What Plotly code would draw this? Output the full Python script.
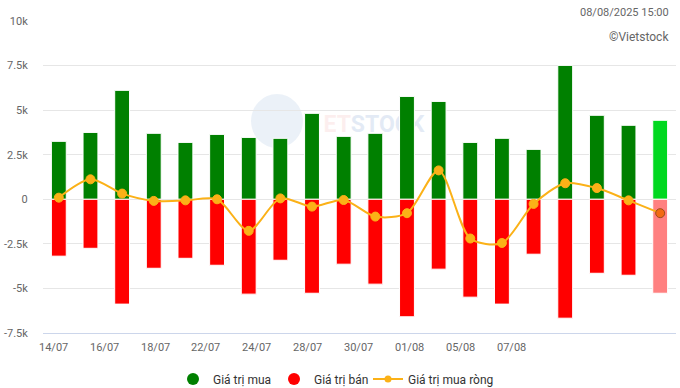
import plotly.graph_objects as go

dates = ["14/07", "15/07", "16/07", "17/07", "18/07", "21/07", "22/07", "23/07", "24/07", "25/07",
         "28/07", "29/07", "30/07", "31/07", "01/08", "04/08", "05/08", "06/08", "07/08", "08/08"]
buy_values = [3250, 3750, 6110, 3700, 3190, 3640, 3470, 3420, 4820, 3530,
              3700, 5770, 5490, 3190, 3420, 2800, 7510, 4710, 4150, 4430]
sell_values = [-3190, -2750, -5880, -3870, -3310, -3700, -5320, -3420, -5270, -3640,
               -4760, -6590, -3920, -5490, -5880, -3080, -6670, -4150, -4260, -5270]
net_values = [90, 1120, 320, -90, -60, 0, -1770, 50, -410, -40,
              -970, -780, 1620, -2200, -2450, -260, 900, 630, -60, -780]
x_tick_labels = ["14/07", "16/07", "18/07", "22/07", "24/07", "28/07", "30/07", "01/08", "05/08", "07/08"]
y_tick_values = [-7500, -5000, -2500, 0, 2500, 5000, 7500, 10000]
y_tick_labels = ["-7.5k", "-5k", "-2.5k", "0", "2.5k", "5k", "7.5k", "10k"]

FONT = "Roboto"
GREEN, GREEN_LAST = "#008000", "#00d81f"
RED, RED_LAST = "#ff0000", "#ff8080"
NET = "#fbb117"

n = len(dates)
buy_colors = [GREEN] * (n - 1) + [GREEN_LAST]
sell_colors = [RED] * (n - 1) + [RED_LAST]
net_colors = [NET] * (n - 1) + ["#f26a12"]
net_line_colors = [NET] * (n - 1) + ["#9a4a1a"]

fig = go.Figure()
fig.add_trace(go.Bar(x=dates, y=buy_values, marker=dict(color=buy_colors, line=dict(color="white", width=1)),
                     showlegend=False, hoverinfo="y"))
fig.add_trace(go.Bar(x=dates, y=sell_values, marker=dict(color=sell_colors, line=dict(color="white", width=1)),
                     showlegend=False, hoverinfo="y"))
fig.add_trace(go.Scatter(x=dates, y=net_values, mode="lines+markers",
                         line=dict(color=NET, width=2, shape="spline", smoothing=0.8),
                         marker=dict(size=9, color=net_colors, line=dict(color=net_line_colors, width=1)),
                         showlegend=False))

# legend entries (no visible marks: y is empty)
fig.add_trace(go.Scatter(x=[dates[0]], y=[None], mode="markers", name="Giá trị mua",
                         marker=dict(size=12, color=GREEN, symbol="circle"), legend="legend"))
fig.add_trace(go.Scatter(x=[dates[0]], y=[None], mode="markers", name="Giá trị bán",
                         marker=dict(size=12, color=RED, symbol="circle"), legend="legend"))
fig.add_trace(go.Scatter(x=[dates[0]], y=[None], mode="lines+markers", name="Giá trị mua ròng",
                         line=dict(color=NET, width=2), marker=dict(size=7, color=NET), legend="legend2"))

W, H = 680, 388
L, R, T, B = 43, 4, 21, 55
pw = W - L - R
ph = H - T - B


def px(X):
    return (X - L) / pw


def py(Y):
    return (H - B - Y) / ph


annotations = []
label_start_px = 53.3
label_step_px = 50.9
for k, lab in enumerate(x_tick_labels):
    annotations.append(dict(text=lab, xref="paper", yref="paper",
                            x=px(label_start_px + k * label_step_px), y=py(347),
                            xanchor="center", yanchor="middle", showarrow=False,
                            font=dict(family=FONT, size=11, color="#666666")))
annotations.append(dict(text="08/08/2025 15:00", xref="paper", yref="paper", x=px(671), y=py(12),
                        xanchor="right", yanchor="middle", showarrow=False,
                        font=dict(family=FONT, size=11, color="#666666")))
annotations.append(dict(text="©Vietstock", xref="paper", yref="paper", x=px(671), y=py(37),
                        xanchor="right", yanchor="middle", showarrow=False,
                        font=dict(family=FONT, size=12, color="#666666")))

shapes = [
    dict(type="circle", xref="paper", yref="paper",
         x0=px(251), x1=px(303), y0=py(148), y1=py(94),
         fillcolor="rgba(205,220,238,0.4)", line=dict(width=0), layer="below"),
    dict(type="rect", xref="paper", yref="paper",
         x0=px(316), x1=px(432), y0=py(132), y1=py(113),
         fillcolor="rgba(0,0,0,0)", line=dict(width=0), layer="below",
         label=dict(text="<b><span style='color:rgba(245,190,190,0.5)'>ET</span>STOCK</b>",
                    font=dict(family=FONT, size=23, color="rgba(200,214,235,0.5)"))),
]

fig.update_layout(
    width=W, height=H,
    margin=dict(l=L, r=R, t=T, b=B, autoexpand=False),
    paper_bgcolor="white", plot_bgcolor="rgba(0,0,0,0)",
    barmode="relative", bargap=0.53,
    font=dict(family=FONT, color="#333333"),
    xaxis=dict(type="category", range=[-0.5, n - 0.5], showticklabels=False, showgrid=False, showline=True,
               linecolor="#ccd6eb", linewidth=1, ticks="", fixedrange=True),
    yaxis=dict(range=[-7500, 10000], tickvals=y_tick_values, ticktext=y_tick_labels,
               showgrid=True, gridcolor="#e6e6e6", gridwidth=1, zeroline=False,
               ticks="outside", ticklen=12, tickcolor="rgba(0,0,0,0)",
               tickfont=dict(family=FONT, size=11, color="#666666")),
    legend=dict(orientation="h", x=px(173), xanchor="left", y=py(379), yanchor="middle",
                font=dict(family=FONT, size=12, color="#333333"), itemwidth=30,
                entrywidth=56, entrywidthmode="pixels", bgcolor="rgba(0,0,0,0)"),
    legend2=dict(orientation="h", x=px(368), xanchor="left", y=py(379), yanchor="middle",
                 font=dict(family=FONT, size=12, color="#333333"), itemwidth=30,
                 bgcolor="rgba(0,0,0,0)"),
    annotations=annotations,
    shapes=shapes,
    showlegend=True,
)

fig.write_html("out.html", config={"displayModeBar": False},
               post_script="document.body.style.margin='0px';")
